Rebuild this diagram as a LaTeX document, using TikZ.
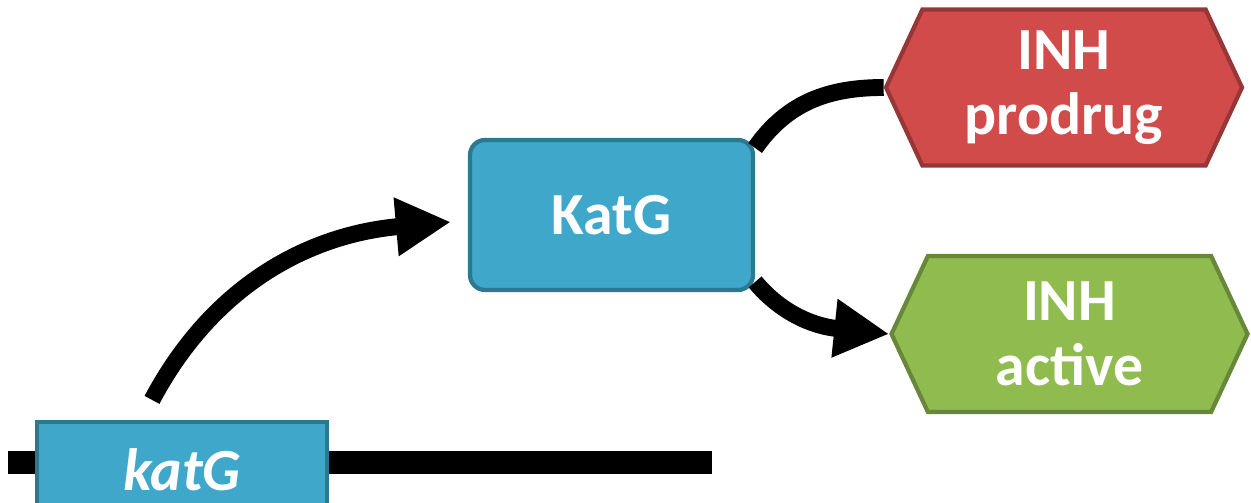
\documentclass[tikz,border=0pt]{standalone}
\usepackage{fontspec}
\setmainfont{Carlito}
\usetikzlibrary{arrows.meta,shapes.symbols}
\definecolor{katblue}{HTML}{3FA7C9}
\definecolor{inhred}{HTML}{D24B4B}
\definecolor{inhgreen}{HTML}{8FBB4F}

\begin{document}
\begin{tikzpicture}[
    box/.style={draw=#1!72!black,fill=#1,line width=1.2pt,text=white,
      font=\bfseries\fontsize{17}{18.5}\selectfont,align=center},
    hexa/.style={box=#1,shape=signal,signal to=west and east,
      signal pointer angle=130,minimum width=3.56cm,minimum height=1.56cm,inner sep=0pt},
    curveline/.style={line width=4.8pt},
    bigtip/.style={-{Triangle[length=5.5mm,width=5.5mm]}}]
  \useasboundingbox (0,0) rectangle (12.51,5.03);
  \coordinate (dnaL) at (0.08,0.40);
  \coordinate (dnaR) at (7.12,0.40);
  \draw[line width=0.23cm] (dnaL) -- (dnaR);
  \node[box=katblue,minimum width=2.9cm,minimum height=0.95cm,inner sep=0pt] (gene) at (1.82,0.335) {\itshape katG};
  \node[box=katblue,rounded corners=0.15cm,minimum width=2.83cm,minimum height=1.5cm] (katg) at (6.115,2.88) {KatG};
  \node[hexa=inhred] (prodrug) at (10.64,4.155) {INH\\prodrug};
  \node[hexa=inhgreen] (active) at (10.695,1.69) {INH\\active};
  \draw[curveline,bigtip] ([xshift=-3mm,yshift=2mm]gene.north) to[out=62,in=185] ([xshift=-1.7mm,yshift=-0.7mm]katg.west);
  \draw[curveline] (katg.25) to[out=55,in=180] (prodrug.west);
  \draw[curveline,bigtip] (katg.-25) to[out=-50,in=174] (active.west);
\end{tikzpicture}
\end{document}
